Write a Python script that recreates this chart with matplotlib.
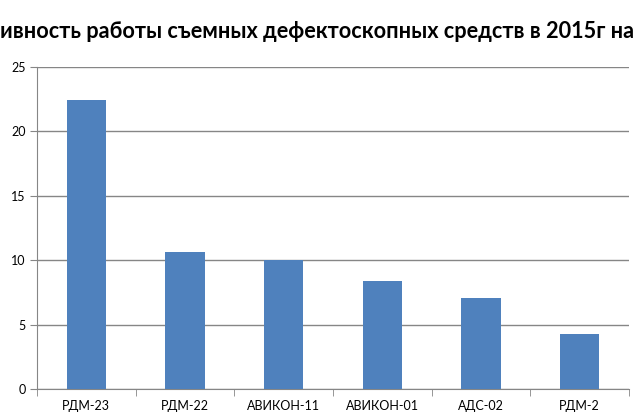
import matplotlib
matplotlib.use("Agg")
import matplotlib.pyplot as plt
import numpy as np

categories = ["РДМ-23", "РДМ-22", "АВИКОН-11", "АВИКОН-01", "АДС-02", "РДМ-2"]
values = [22.4, 10.6, 10.0, 8.4, 7.1, 4.3]
yticks = [0, 5, 10, 15, 20, 25]
title = "ивность работы съемных дефектоскопных средств в 2015г на"

plt.rcParams['font.family'] = ['Lato', 'DejaVu Sans']

fig = plt.figure(figsize=(6.43, 4.2), dpi=100)
ax = fig.add_axes([37/643, 1 - 389/420, (629-37)/643, (389-67)/420])

x = np.arange(len(categories))
ax.bar(x, values, width=0.4, color="#4f81bd", zorder=3)

ax.set_xlim(-0.5, len(categories) - 0.5)
ax.set_ylim(0, 25)
ax.set_yticks(yticks)
ax.set_yticklabels([str(t) for t in yticks], fontsize=9)
ax.set_xticks(x)
ax.set_xticklabels(categories, fontsize=9)
ax.set_xticks(np.arange(-0.5, len(categories)), minor=True)
ax.tick_params(axis='x', which='major', length=0, pad=8)
ax.tick_params(axis='x', which='minor', length=5, color="#868686", direction='out')
ax.tick_params(axis='y', length=5, color="#868686", direction='out', pad=3)
ax.grid(axis='y', color="#868686", linewidth=1, zorder=0)
for s in ['top', 'right']:
    ax.spines[s].set_visible(False)
for s in ['left', 'bottom']:
    ax.spines[s].set_color("#868686")
ax.set_axisbelow(True)

fig.text(0.0, 1 - 32/420, title, fontsize=15.6, fontweight='bold', ha='left', va='center')

fig.savefig("out.png", dpi=100)
